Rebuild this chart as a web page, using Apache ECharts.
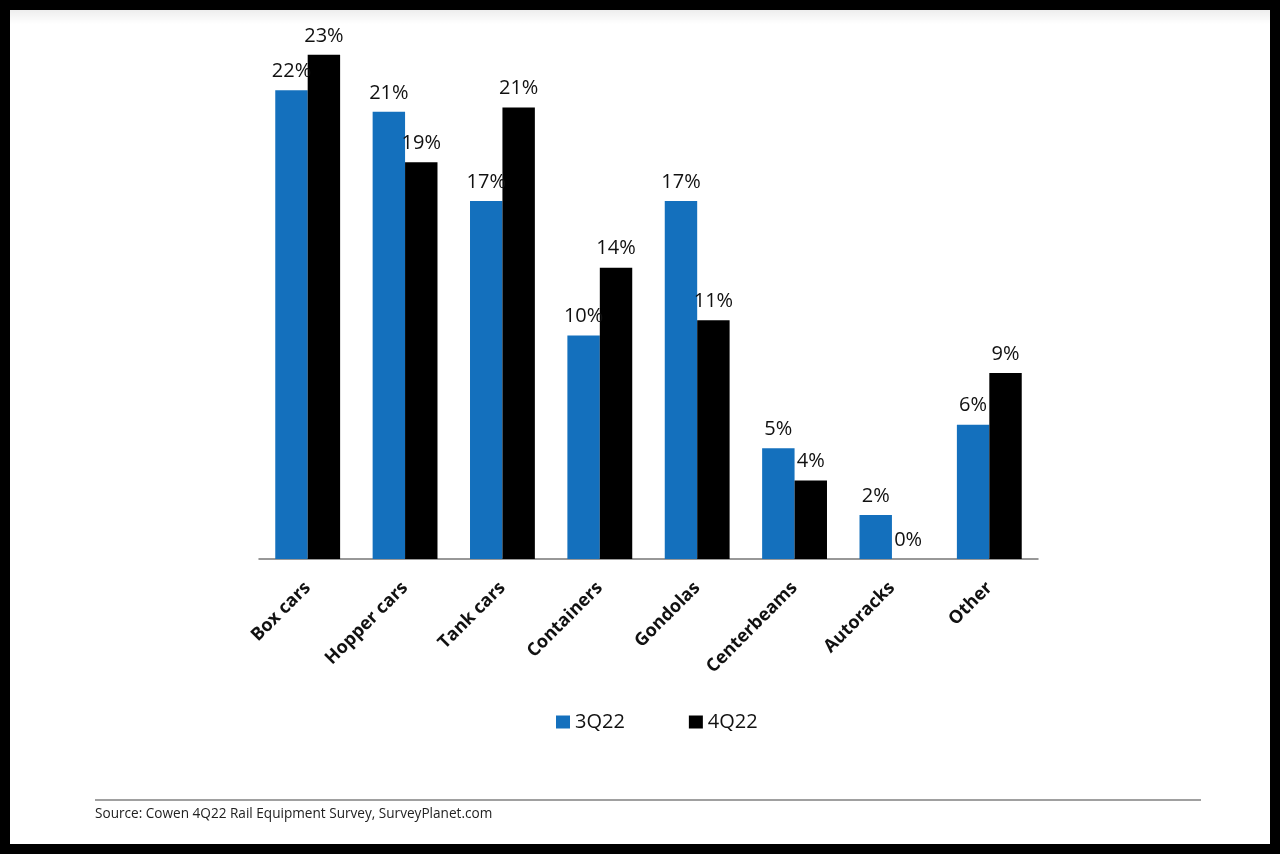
<!DOCTYPE html>
<html>
<head>
<meta charset="utf-8">
<script src="https://cdn.jsdelivr.net/npm/echarts@6/dist/echarts.min.js"></script>
<style>
  html, body { margin: 0; padding: 0; background: #000; }
  #chart { width: 1280px; height: 854px; }
</style>
</head>
<body>
<div id="chart"></div>
<script>
const categories = ['Box cars', 'Hopper cars', 'Tank cars', 'Containers', 'Gondolas', 'Centerbeams', 'Autoracks', 'Other'];
const seriesNames = ['3Q22', '4Q22'];
const values3Q22 = [21.8, 20.8, 16.65, 10.4, 16.65, 5.15, 2.05, 6.25];
const values4Q22 = [23.45, 18.45, 21.0, 13.55, 11.1, 3.65, 0, 8.65];
const labels3Q22 = ['22%', '21%', '17%', '10%', '17%', '5%', '2%', '6%'];
const labels4Q22 = ['23%', '19%', '21%', '14%', '11%', '4%', '0%', '9%'];
const sourceText = 'Source: Cowen 4Q22 Rail Equipment Survey, SurveyPlanet.com';

const chart = echarts.init(document.getElementById('chart'));
const labelFont = 'Open Sans, DejaVu Sans, sans-serif';

function barLabel(labels) {
  return {
    show: true,
    position: 'top',
    distance: 9,
    fontFamily: labelFont,
    fontSize: 20,
    color: '#111',
    formatter: p => labels[p.dataIndex]
  };
}

chart.setOption({
  backgroundColor: '#000',
  animation: false,
  graphic: [
    { type: 'rect', z: -10, silent: true, shape: { x: 10, y: 10, width: 1260, height: 834 }, style: { fill: '#fff' } },
    { type: 'rect', z: -9, silent: true, shape: { x: 10, y: 10, width: 1260, height: 14 },
      style: { fill: new echarts.graphic.LinearGradient(0, 0, 0, 1, [{ offset: 0, color: 'rgba(0,0,0,0.07)' }, { offset: 1, color: 'rgba(0,0,0,0)' }]) } },
    { type: 'line', silent: true, shape: { x1: 95, y1: 800, x2: 1201, y2: 800 }, style: { stroke: '#808080', lineWidth: 1.5 } },
    { type: 'text', silent: true, left: 95, top: 807, style: { text: sourceText, fontFamily: labelFont, fontSize: 13.6, fill: '#222' } }
  ],
  legend: {
    data: seriesNames,
    left: 551,
    top: 707,
    itemWidth: 14,
    itemHeight: 13,
    itemGap: 64,
    icon: 'rect',
    textStyle: { fontFamily: labelFont, fontSize: 20, color: '#111' }
  },
  grid: { left: 259, right: 242, top: 21.5, bottom: 295 },
  xAxis: {
    type: 'category',
    data: categories,
    axisLine: { lineStyle: { color: '#777', width: 1.5 } },
    axisTick: { show: false },
    axisLabel: {
      rotate: 45,
      interval: 0,
      margin: 26,
      fontFamily: labelFont,
      fontSize: 18,
      fontWeight: 'bold',
      color: '#111'
    }
  },
  yAxis: {
    type: 'value',
    min: 0,
    max: 25,
    show: false,
    splitLine: { show: false }
  },
  series: [
    {
      name: seriesNames[0],
      type: 'bar',
      data: values3Q22,
      barWidth: '33.3%',
      barGap: '0%',
      itemStyle: { color: '#1470BD' },
      label: barLabel(labels3Q22)
    },
    {
      name: seriesNames[1],
      type: 'bar',
      data: values4Q22,
      barWidth: '33.3%',
      barGap: '0%',
      itemStyle: { color: '#000' },
      label: barLabel(labels4Q22)
    }
  ]
});
</script>
</body>
</html>
